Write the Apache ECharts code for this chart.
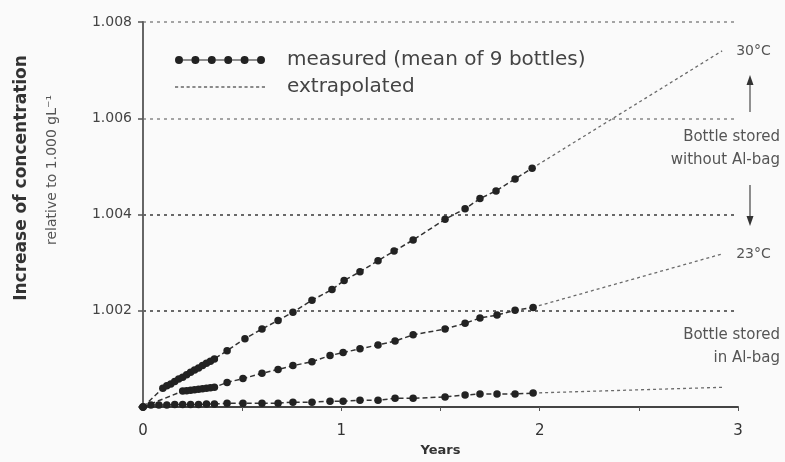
<!DOCTYPE html>
<html><head><meta charset="utf-8">
<script src="https://cdn.jsdelivr.net/npm/echarts@6/dist/echarts.min.js"></script>
<style>html,body{margin:0;padding:0;background:#fafafa}#c{width:785px;height:462px}</style>
</head><body><div id="c"></div>
<script>
// ---- data ----
const years30 = [0, 0.10,0.12,0.14,0.16,0.18,0.20,0.22,0.24,0.26,0.28,0.30,0.32,0.34,0.36,
  0.424,0.514,0.600,0.681,0.756,0.852,0.953,1.014,1.094,1.185,1.266,1.362,1.523,1.624,1.699,1.780,1.876,1.962];
const conc30 = [1.0000, 1.00039,1.00044,1.00048,1.00053,1.00058,1.00062,1.00067,1.00072,1.00077,1.00081,1.00086,1.00091,1.00095,1.00100,
  1.00117,1.00142,1.00162,1.00180,1.00197,1.00222,1.00244,1.00263,1.00281,1.00304,1.00324,1.00347,1.00390,1.00412,1.00433,1.00449,1.00474,1.00496];
const years23 = [0, 0.20,0.22,0.24,0.26,0.28,0.30,0.32,0.34,0.36,
  0.424,0.504,0.600,0.681,0.756,0.852,0.943,1.009,1.094,1.185,1.271,1.362,1.523,1.624,1.699,1.785,1.876,1.967];
const conc23 = [1.0000, 1.00033,1.00034,1.00035,1.00036,1.00037,1.00038,1.00039,1.00040,1.00041,
  1.00051,1.00059,1.00070,1.00078,1.00086,1.00094,1.00107,1.00113,1.00121,1.00129,1.00137,1.00150,1.00162,1.00174,1.00185,1.00191,1.00201,1.00207];
const yearsBag = [0, 0.04,0.08,0.12,0.16,0.20,0.24,0.28,0.32,0.36,
  0.424,0.504,0.600,0.681,0.756,0.852,0.943,1.009,1.094,1.185,1.271,1.362,1.523,1.624,1.699,1.785,1.876,1.967];
const concBag = [1.0000, 1.00004,1.00004,1.00004,1.00005,1.00005,1.00005,1.00005,1.00006,1.00006,
  1.00008,1.00008,1.00008,1.00008,1.00010,1.00010,1.00012,1.00012,1.00014,1.00014,1.00018,1.00018,1.00021,1.00025,1.00027,1.00027,1.00027,1.00029];
const extrapYears30 = [1.962, 2.92];
const extrapConc30 = [1.00496, 1.00740];
const extrapYears23 = [1.967, 2.92];
const extrapConc23 = [1.00207, 1.00318];
const extrapYearsBag = [1.967, 2.925];
const extrapConcBag = [1.00029, 1.00041];
const seriesLabels = ['30°C', '23°C'];
const xTickLabels = ['0', '1', '2', '3'];
const yTickLabels = ['1.002', '1.004', '1.006', '1.008'];
const legendNames = ['measured (mean of 9 bottles)', 'extrapolated'];
const yTitle = ['Increase of concentration', 'relative to 1.000 gL\u207B\u00B9'];
const xTitle = 'Years';
const notes = ['Bottle stored\nwithout Al-bag', 'Bottle stored\nin Al-bag'];

const zip = (a, b) => a.map((v, i) => [v, b[i]]);
const FONT = 'DejaVu Sans';

// legend icons (style only)
let dotIcon = 'path://';
const cs = [4, 20.4, 36.8, 53.2, 69.6, 86];
cs.forEach((c, i) => {
  dotIcon += `M${c-4},4a4,4 0 1,0 8,0a4,4 0 1,0 -8,0Z `;
  if (i < cs.length - 1) dotIcon += `M${c+4},3.4H${cs[i+1]-4}V4.6H${c+4}Z `;
});
let dashIcon = 'path://';
for (let x = 0; x < 88; x += 5.5) dashIcon += `M${x},0H${x+3}V1.2H${x}Z `;

const measStyle = {
  type: 'line', name: legendNames[0], symbol: 'circle', symbolSize: 7.5,
  itemStyle: { color: '#222' },
  lineStyle: { color: '#333', width: 1.5, type: [5, 3] },
  z: 5
};
const extStyle = {
  type: 'line', name: legendNames[1], symbol: 'none',
  itemStyle: { color: '#666' },
  lineStyle: { color: '#6a6a6a', width: 1.3, type: [3, 3] },
  z: 4
};
const endLab = (t) => ({ show: true, formatter: t, color: '#555', fontSize: 14, fontFamily: FONT, distance: 14 });

const chart = echarts.init(document.getElementById('c'), null, { renderer: 'canvas' });
chart.setOption({
  animation: false,
  backgroundColor: '#fafafa',
  grid: { left: 143, right: 47, top: 22, bottom: 50 },
  xAxis: {
    type: 'value', min: 0, max: 3, interval: 0.5,
    name: xTitle, nameLocation: 'middle', nameGap: 37,
    nameTextStyle: { fontFamily: FONT, fontWeight: 'bold', fontSize: 13, color: '#333' },
    axisLine: { lineStyle: { color: '#444', width: 2 } },
    axisTick: { show: true, length: 4, lineStyle: { color: '#555' } },
    axisLabel: { fontFamily: FONT, fontSize: 15, color: '#333', margin: 17,
      formatter: v => (Math.abs(v - Math.round(v)) < 1e-6 ? xTickLabels[Math.round(v)] : '') },
    splitLine: { show: false }
  },
  yAxis: {
    type: 'value', min: 1.000, max: 1.008, interval: 0.002,
    axisLine: { show: true, lineStyle: { color: '#666', width: 2 } },
    axisTick: { show: true, length: 5, lineStyle: { color: '#555', width: 1.5 } },
    axisLabel: { fontFamily: FONT, fontSize: 14, color: '#444', margin: 11,
      formatter: v => { const k = Math.round((v - 1) / 0.002); return k >= 1 ? yTickLabels[k - 1] : ''; } },
    splitLine: { show: true, lineStyle: { color: ['#555', '#3a3a3a', '#3a3a3a', '#888', '#888'], width: 1.6, type: [3, 4] } }
  },
  legend: {
    orient: 'vertical', left: 175, top: 50, padding: 0, itemWidth: 90, itemHeight: 8, itemGap: 7,
    symbolKeepAspect: true, selectedMode: false,
    textStyle: { fontFamily: FONT, fontSize: 20, color: '#444', padding: [0, 0, 0, 17], lineHeight: 20 },
    data: [{ name: legendNames[0], icon: dotIcon }, { name: legendNames[1], icon: dashIcon }]
  },
  series: [
    Object.assign({}, extStyle, { data: zip(extrapYears30, extrapConc30), endLabel: endLab(seriesLabels[0]) }),
    Object.assign({}, extStyle, { data: zip(extrapYears23, extrapConc23), endLabel: endLab(seriesLabels[1]) }),
    Object.assign({}, extStyle, { data: zip(extrapYearsBag, extrapConcBag) }),
    Object.assign({}, measStyle, { data: zip(years30, conc30) }),
    Object.assign({}, measStyle, { data: zip(years23, conc23) }),
    Object.assign({}, measStyle, { data: zip(yearsBag, concBag) })
  ],
  graphic: [
    { type: 'text', x: 22, y: 178, rotation: Math.PI / 2,
      style: { text: yTitle[0], font: `bold 17px "${FONT}"`, fill: '#333', align: 'center', verticalAlign: 'middle' } },
    { type: 'text', x: 52, y: 170, rotation: Math.PI / 2,
      style: { text: yTitle[1], font: `14px "${FONT}"`, fill: '#555', align: 'center', verticalAlign: 'middle' } },
    { type: 'text', x: 780, y: 126,
      style: { text: notes[0], font: `15px "${FONT}"`, fill: '#555', align: 'right', verticalAlign: 'top', lineHeight: 23 } },
    { type: 'text', x: 780, y: 324,
      style: { text: notes[1], font: `15px "${FONT}"`, fill: '#555', align: 'right', verticalAlign: 'top', lineHeight: 23 } },
    { type: 'line', shape: { x1: 750, y1: 112, x2: 750, y2: 84 }, style: { stroke: '#777', lineWidth: 1.6 } },
    { type: 'polygon', shape: { points: [[750, 75], [746.5, 85], [753.5, 85]] }, style: { fill: '#333' } },
    { type: 'line', shape: { x1: 750, y1: 185, x2: 750, y2: 217 }, style: { stroke: '#444', lineWidth: 1.2 } },
    { type: 'polygon', shape: { points: [[750, 226], [746.5, 216], [753.5, 216]] }, style: { fill: '#333' } }
  ]
});
</script></body></html>
